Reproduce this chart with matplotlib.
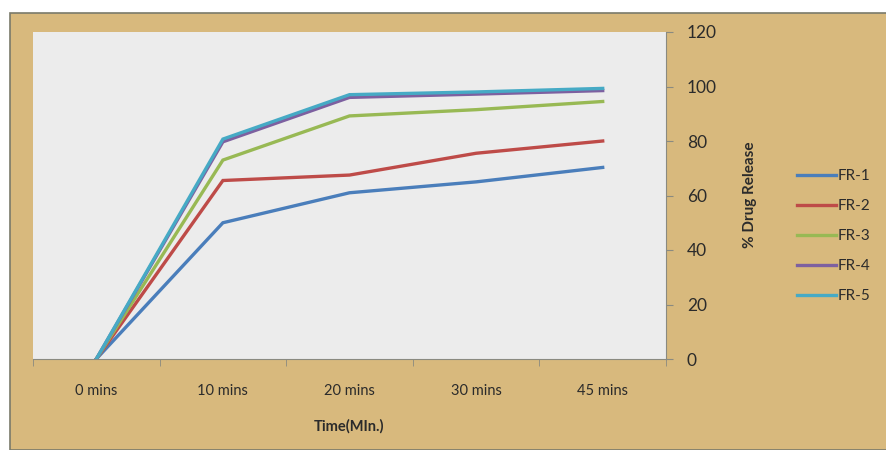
import matplotlib.pyplot as plt
import matplotlib.patches as mpatches

times = ['0 mins', '10 mins', '20 mins', '30 mins', '45 mins']
fr1 = [0, 50, 61, 65, 70.3]
fr2 = [0, 65.5, 67.5, 75.5, 80]
fr3 = [0, 73, 89.2, 91.5, 94.5]
fr4 = [0, 79.7, 96, 97.2, 98.5]
fr5 = [0, 80.7, 97, 98, 99.3]
names = ['FR-1', 'FR-2', 'FR-3', 'FR-4', 'FR-5']
colors = ['#4A7EBB', '#BE4B48', '#98B954', '#7D60A0', '#46AAC5']

plt.rcParams['font.family'] = ['Lato', 'DejaVu Sans']

fig = plt.figure(figsize=(8.86, 4.5), dpi=100)
fig.patch.set_facecolor('white')

# parchment backdrop
bg = mpatches.Rectangle((10 / 886, 0), 1, 1 - 13 / 450, transform=fig.transFigure,
                        facecolor='#d8b97d', edgecolor='#7a7a6a', linewidth=1.2, zorder=-10)
fig.patches.append(bg)

ax = fig.add_axes([33 / 886, 91 / 450, 633 / 886, 327 / 450])
ax.set_facecolor('#ececec')

x = range(len(times))
for data, name, c in zip([fr1, fr2, fr3, fr4, fr5], names, colors):
    ax.plot(x, data, color=c, linewidth=2.4, label=name, solid_joinstyle='miter')

ax.set_xlim(-0.5, 4.5)
ax.set_ylim(0, 120)
ax.set_yticks(range(0, 121, 20))
ax.yaxis.tick_right()
ax.tick_params(axis='y', direction='out', length=5, color='#8a8a80', labelsize=12.5,
               labelcolor='#2b2b2b', pad=10)
ax.set_xticks(list(x))
ax.set_xticklabels(times)
ax.set_xticks([i - 0.5 for i in range(len(times) + 1)], minor=True)
ax.tick_params(axis='x', which='major', length=0, labelsize=10.5, labelcolor='#2b2b2b', pad=18)
ax.tick_params(axis='x', which='minor', direction='out', length=5, color='#8a8a80')

for s in ['top', 'left']:
    ax.spines[s].set_visible(False)
ax.spines['right'].set_color('#8a8a80')
ax.spines['bottom'].set_color('#8a8a80')

ax.set_xlabel('Time(MIn.)', fontsize=10.5, fontweight='bold', color='#2b2b2b', labelpad=15)

fig.text(750 / 886, 1 - 195 / 450, '% Drug Release', rotation=90, fontsize=11,
         fontweight='bold', color='#2b2b2b', ha='center', va='center')

fig.legend(loc='center left', bbox_to_anchor=(783 / 886, 1 - 236 / 450), frameon=False,
           fontsize=11, handlelength=2.6, handletextpad=0.1, labelspacing=1.05,
           labelcolor='#2b2b2b')

fig.savefig('out.png', dpi=100)
